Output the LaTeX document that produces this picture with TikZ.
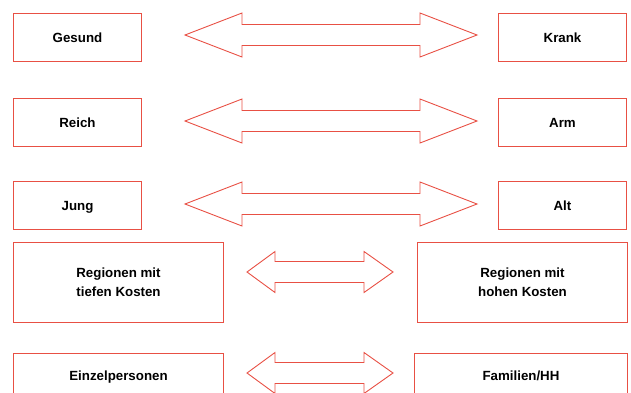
\documentclass[tikz,border=0pt]{standalone}
\usepackage{fontspec}
\setmainfont{Liberation Sans}
\usetikzlibrary{positioning}
\definecolor{boxred}{RGB}{232,80,68}

\begin{document}
\begin{tikzpicture}[x=1pt, y=1pt,
      every node/.style={font=\fontsize{13.3}{19}\selectfont\bfseries, align=center},
      pole/.style={rectangle, draw, color=boxred, text=black, line width=1pt,
                   inner sep=0pt, minimum width=128pt, minimum height=48pt},
      oneline/.style={text height=11pt, text depth=1.5pt},
      region/.style={pole, minimum width=210pt, minimum height=80pt},
      dbl/.style={draw=boxred, line width=0.9pt, line join=miter},
    ]
    \useasboundingbox (0,0) rectangle (631,-392);
    \clip (0,0) rectangle (631,-392);
    % left column
    \node[pole, oneline, anchor=north west] (gesund) at (13,-13) {Gesund};
    \node[pole, oneline, below=36pt of gesund] (reich) {Reich};
    \node[pole, oneline, below=34pt of reich] (jung) {Jung};
    \node[region, below=12pt of jung.south west, anchor=north west] (tief)
      {Regionen mit\\tiefen Kosten};
    \node[region, oneline, minimum height=44pt, below=30pt of tief] (einzel) {Einzelpersonen};
    % right column
    \node[pole, oneline, right=356pt of gesund] (krank) {Krank};
    \node[pole, oneline, right=356pt of reich] (arm) {Arm};
    \node[pole, oneline, right=356pt of jung] (alt) {Alt};
    \node[region, right=193pt of tief] (hoch) {Regionen mit\\hohen Kosten};
    \node[region, oneline, minimum width=213pt, minimum height=44pt, right=190pt of einzel]
      (familien) {Familien/HH};
    % the double arrows in between
    \foreach \y in {35,121,204}
      \draw[dbl] (185,-\y) -- ++(57,22) -- ++(0,-11.5) -- ++(178,0) -- ++(0,11.5)
        -- ++(57,-22) -- ++(-57,-22) -- ++(0,11.5) -- ++(-178,0) -- ++(0,-11.5) -- cycle;
    \foreach \y in {272,373}
      \draw[dbl] (247,-\y) -- ++(28,20.5) -- ++(0,-10) -- ++(89,0) -- ++(0,10)
        -- ++(29,-20.5) -- ++(-29,-20.5) -- ++(0,10) -- ++(-89,0) -- ++(0,-10) -- cycle;
  \end{tikzpicture}
\end{document}
